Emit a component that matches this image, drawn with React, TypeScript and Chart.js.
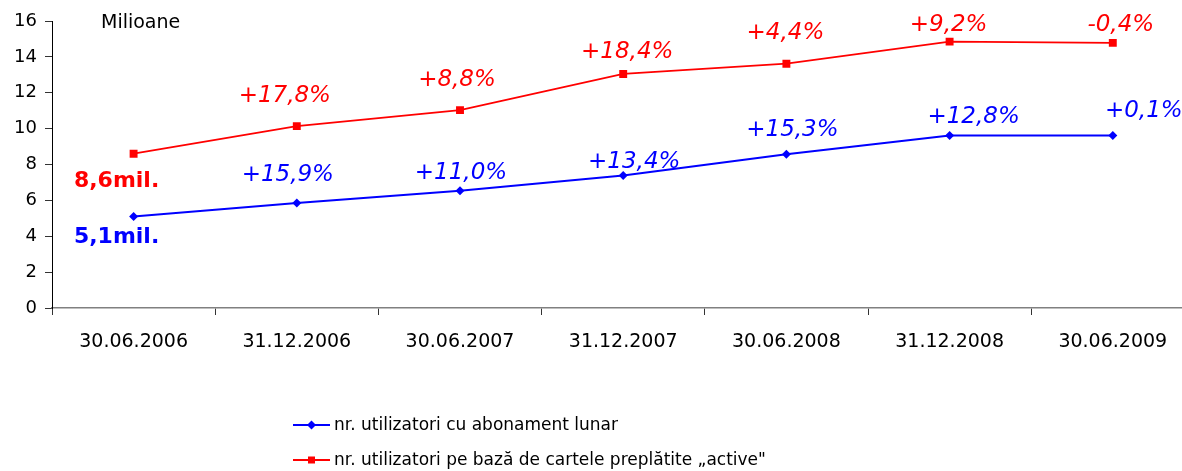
import React, { useEffect, useRef } from 'react';
import { Chart, registerables } from 'chart.js';

Chart.register(...registerables);

const dates = ['30.06.2006', '31.12.2006', '30.06.2007', '31.12.2007', '30.06.2008', '31.12.2008', '30.06.2009'];
const subscriptionUsers = [5.1, 5.86, 6.53, 7.39, 8.57, 9.61, 9.62];
const prepaidUsers = [8.6, 10.14, 11.03, 13.05, 13.62, 14.85, 14.78];
const subscriptionGrowth = ['', '+15,9%', '+11,0%', '+13,4%', '+15,3%', '+12,8%', '+0,1%'];
const prepaidGrowth = ['', '+17,8%', '+8,8%', '+18,4%', '+4,4%', '+9,2%', '-0,4%'];
const seriesNames = ['nr. utilizatori cu abonament lunar', 'nr. utilizatori pe bază de cartele preplătite „active"'];
const unitLabel = 'Milioane';

// label offsets relative to the points (layout only)
const subscriptionLabelOffsets = [[-17, 21], [-9, -28], [1, -18], [11, -13], [6, -24], [24, -19], [31, -24]];
const prepaidLabelOffsets = [[-17, 28], [-12, -30], [-3, -30], [4, -22], [-1, -31], [-1, -17], [8, -18]];

const FONT = 'DejaVu Sans';
const BLUE = '#0000FF';
const RED = '#FF0000';

const fmtMil = (v: number) => v.toFixed(1).replace('.', ',') + 'mil.';

const labelPlugin = {
  id: 'customLabels',
  afterDatasetsDraw(chart: any) {
    const ctx = chart.ctx;
    ctx.save();
    const sets = [
      { idx: 0, growth: subscriptionGrowth, offs: subscriptionLabelOffsets, color: BLUE, values: subscriptionUsers },
      { idx: 1, growth: prepaidGrowth, offs: prepaidLabelOffsets, color: RED, values: prepaidUsers },
    ];
    ctx.textBaseline = 'middle';
    ctx.textAlign = 'center';
    for (const s of sets) {
      const meta = chart.getDatasetMeta(s.idx);
      meta.data.forEach((pt: any, i: number) => {
        const [dx, dy] = s.offs[i];
        ctx.fillStyle = s.color;
        if (i === 0) {
          ctx.font = `bold 22px "${FONT}"`;
          ctx.fillText(fmtMil(s.values[0]), pt.x + dx, pt.y + dy);
        } else {
          ctx.font = `italic 23px "${FONT}"`;
          ctx.fillText(s.growth[i], pt.x + dx, pt.y + dy);
        }
      });
    }
    // unit label
    ctx.fillStyle = '#000';
    ctx.textAlign = 'left';
    ctx.font = `19px "${FONT}"`;
    ctx.fillText(unitLabel, 101, 23);

    // legend
    const rows = [
      { y: 425, color: BLUE, shape: 'diamond', text: seriesNames[0] },
      { y: 460, color: RED, shape: 'square', text: seriesNames[1] },
    ];
    for (const r of rows) {
      ctx.strokeStyle = r.color;
      ctx.fillStyle = r.color;
      ctx.lineWidth = 2;
      ctx.beginPath();
      ctx.moveTo(293, r.y);
      ctx.lineTo(330, r.y);
      ctx.stroke();
      const cx = 311.5;
      ctx.beginPath();
      if (r.shape === 'diamond') {
        ctx.moveTo(cx - 4.5, r.y);
        ctx.lineTo(cx, r.y - 4.5);
        ctx.lineTo(cx + 4.5, r.y);
        ctx.lineTo(cx, r.y + 4.5);
        ctx.closePath();
      } else {
        ctx.rect(cx - 3.5, r.y - 3.5, 7, 7);
      }
      ctx.fill();
      ctx.fillStyle = '#000';
      ctx.font = `17px "${FONT}"`;
      ctx.textAlign = 'left';
      ctx.fillText(r.text, 334, r.y + 1);
    }
    ctx.restore();
  },
};

export default function App() {
  const ref = useRef<HTMLCanvasElement>(null);
  useEffect(() => {
    const chart = new Chart(ref.current as HTMLCanvasElement, {
      type: 'line',
      data: {
        labels: dates,
        datasets: [
          {
            label: seriesNames[0],
            data: subscriptionUsers,
            borderColor: BLUE,
            backgroundColor: BLUE,
            borderWidth: 2,
            pointStyle: 'rectRot',
            pointRadius: 4.5,
            pointBorderWidth: 0,
            tension: 0,
          },
          {
            label: seriesNames[1],
            data: prepaidUsers,
            borderColor: RED,
            backgroundColor: RED,
            borderWidth: 1.75,
            pointStyle: 'rect',
            pointRadius: 5.6,
            pointBorderWidth: 0,
            tension: 0,
          },
        ],
      },
      options: {
        responsive: false,
        animation: false,
        devicePixelRatio: 1,
        layout: { padding: { top: 21, right: 4, left: 0, bottom: 0 } },
        plugins: { legend: { display: false }, tooltip: { enabled: false } },
        font: { family: FONT },
        scales: {
          x: {
            type: 'category',
            offset: true,
            grid: { offset: true, drawOnChartArea: false, drawTicks: true, tickLength: 7, color: '#333333' },
            border: { color: '#808080', width: 1.5 },
            ticks: { color: '#000', font: { family: FONT, size: 19 }, padding: 16, maxRotation: 0, autoSkip: false },
            afterFit: (s: any) => { s.height = 471 - 308; },
          },
          y: {
            min: 0,
            max: 16,
            ticks: { stepSize: 2, color: '#000', font: { family: FONT, size: 18 }, padding: 8 },
            grid: { drawOnChartArea: false, drawTicks: true, tickLength: 7, color: '#333333' },
            border: { color: '#000000', width: 1 },
            afterFit: (s: any) => { s.width = 52; },
          },
        },
      } as any,
      plugins: [labelPlugin],
    });
    return () => chart.destroy();
  }, []);
  return (
    <div style={{ position: 'fixed', left: 0, top: 0, width: 1182, height: 471, overflow: 'hidden', background: '#fff' }}>
      <canvas ref={ref} width={1200} height={471} style={{ display: 'block', width: 1200, height: 471 }} />
    </div>
  );
}
